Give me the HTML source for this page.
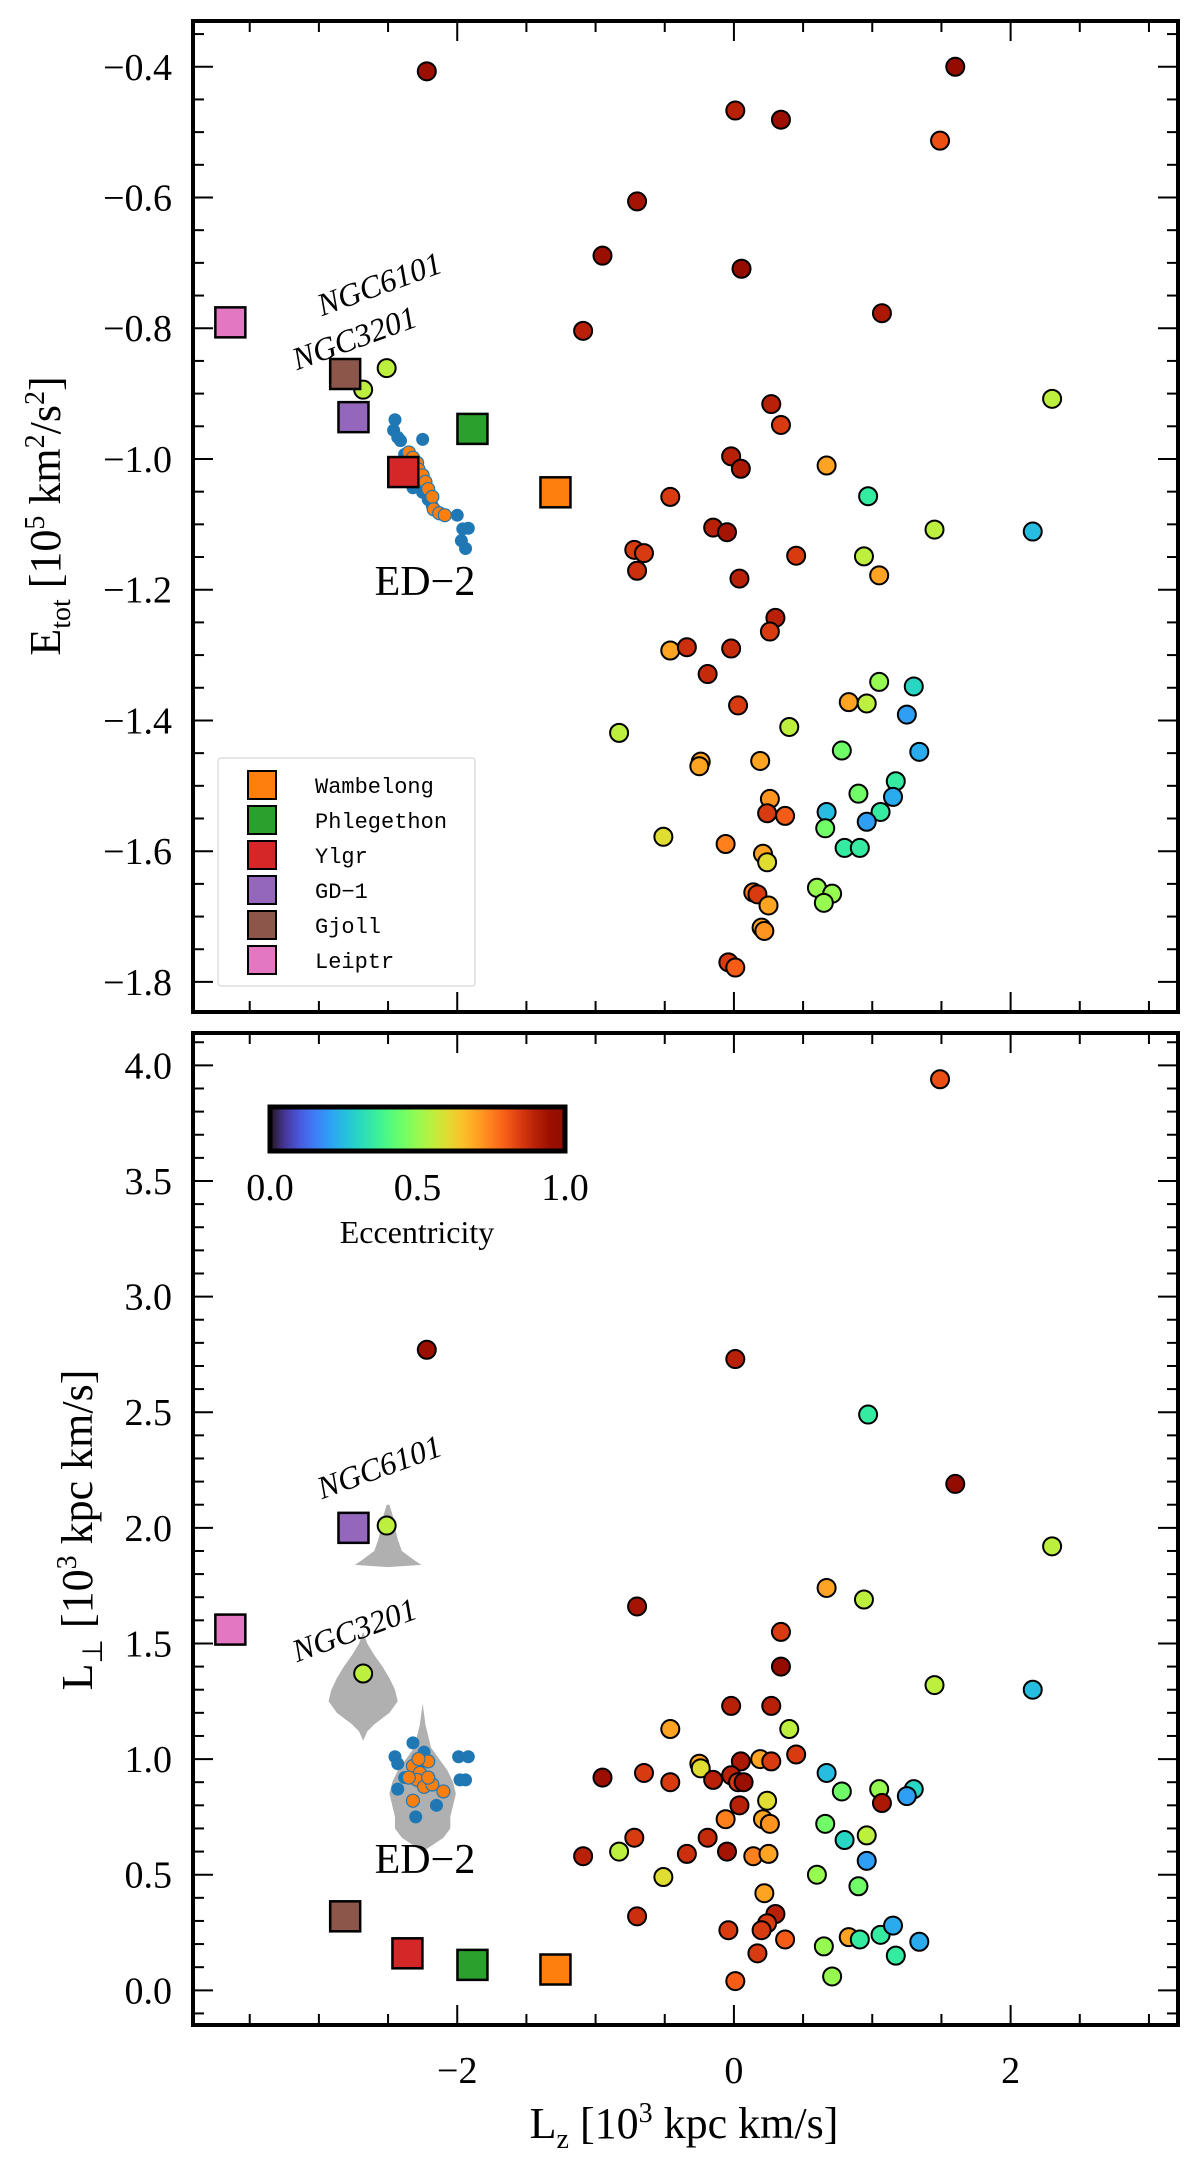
<!DOCTYPE html>
<html><head><meta charset="utf-8"><style>
html,body{margin:0;padding:0;background:#fff}
svg{display:block}
text{font-family:"Liberation Serif",serif;fill:#000}
.mono{font-family:"Liberation Mono",monospace}
</style></head><body>
<svg id="fig" width="1200" height="2161" viewBox="0 0 1200 2161" xmlns="http://www.w3.org/2000/svg">
<g id="top"></g>
<g id="bot"></g>
</svg>
<script>
// ---------- data ----------
const gcLzTop=[-2.22,1.60,0.01,0.34,1.49,-0.70,-0.95,0.055,1.07,-1.09,-2.51,-2.68,2.30,0.27,0.34,-0.02,0.05,0.67,-0.46,0.97,-0.15,-0.05,1.45,2.16,-0.72,-0.65,-0.70,0.45,0.94,1.05,0.04,0.30,0.26,-0.46,-0.34,-0.02,-0.19,0.03,1.05,1.30,0.83,0.96,1.25,0.40,-0.83,0.78,1.34,-0.24,-0.25,0.19,1.17,0.26,0.90,1.15,0.24,0.37,0.67,1.06,0.66,0.96,-0.51,-0.06,0.80,0.91,0.21,0.24,0.60,0.71,0.65,0.14,0.17,0.25,0.20,0.22,-0.04,0.01];
const gcEtot=[-0.407,-0.40,-0.467,-0.481,-0.513,-0.606,-0.689,-0.709,-0.777,-0.804,-0.861,-0.894,-0.908,-0.916,-0.948,-0.996,-1.015,-1.01,-1.058,-1.057,-1.105,-1.112,-1.108,-1.111,-1.139,-1.144,-1.171,-1.148,-1.149,-1.178,-1.183,-1.243,-1.264,-1.293,-1.288,-1.29,-1.329,-1.377,-1.341,-1.348,-1.372,-1.374,-1.391,-1.41,-1.419,-1.446,-1.448,-1.463,-1.47,-1.462,-1.493,-1.52,-1.512,-1.517,-1.542,-1.546,-1.54,-1.54,-1.565,-1.555,-1.578,-1.589,-1.595,-1.595,-1.604,-1.617,-1.656,-1.665,-1.679,-1.663,-1.666,-1.683,-1.717,-1.722,-1.77,-1.778];
const gcEccTop=[.95,.97,.9,.95,.82,.93,.95,.97,.92,.9,.55,.55,.55,.9,.85,.9,.92,.7,.85,.35,.9,.93,.55,.25,.85,.85,.87,.85,.55,.7,.9,.9,.85,.7,.87,.88,.88,.85,.5,.3,.7,.55,.2,.55,.55,.45,.22,.7,.7,.7,.35,.72,.45,.22,.85,.8,.25,.35,.45,.2,.6,.75,.35,.35,.7,.6,.5,.5,.5,.75,.85,.7,.7,.72,.85,.8];
const gcLzBot=[1.49,-2.22,0.01,0.97,1.60,-2.51,2.30,-0.70,0.67,0.94,0.34,0.34,1.45,2.16,-2.68,-0.02,0.27,-0.46,0.40,0.45,0.19,0.27,0.05,-0.25,-0.24,-0.65,-0.02,-0.15,-0.46,-0.95,0.03,0.07,0.67,1.05,1.30,0.78,1.25,1.07,0.24,0.04,-0.06,0.21,0.26,0.66,0.96,0.80,-0.19,-0.72,-1.09,-0.83,-0.34,-0.05,0.14,0.25,0.96,-0.51,0.60,0.90,0.22,-0.70,0.30,0.24,0.20,-0.04,0.37,0.83,0.91,1.06,1.15,1.34,0.65,0.17,1.17,0.71,0.01];
const gcLperp=[3.94,2.77,2.73,2.49,2.19,2.01,1.92,1.66,1.74,1.69,1.55,1.40,1.32,1.30,1.37,1.23,1.23,1.13,1.13,1.02,1.00,0.99,0.99,0.98,0.96,0.94,0.93,0.91,0.90,0.92,0.90,0.90,0.94,0.87,0.87,0.86,0.84,0.81,0.82,0.80,0.74,0.74,0.72,0.72,0.67,0.65,0.66,0.66,0.58,0.60,0.59,0.60,0.58,0.59,0.56,0.49,0.50,0.45,0.42,0.32,0.33,0.29,0.26,0.26,0.22,0.23,0.22,0.24,0.28,0.21,0.19,0.16,0.15,0.06,0.04];
const gcEccBot=[.82,.95,.9,.35,.97,.55,.55,.93,.7,.55,.85,.97,.55,.25,.55,.9,.9,.7,.55,.85,.7,.85,.92,.7,.6,.85,.9,.9,.85,.95,.85,.95,.25,.5,.3,.45,.2,.92,.6,.9,.75,.7,.72,.45,.55,.3,.88,.85,.9,.55,.87,.93,.75,.7,.2,.6,.5,.45,.7,.87,.9,.85,.85,.85,.8,.7,.35,.35,.22,.22,.5,.85,.35,.5,.8];
const streamNames=["Wambelong","Phlegethon","Ylgr","GD\u22121","Gjoll","Leiptr"];
const streamColors=["#ff7f0e","#2ca02c","#d62728","#9467bd","#8c564b","#e377c2"];
const streamLz=[-1.29,-1.89,-2.39,-2.75,-2.81,-3.64];
const streamEtot=[-1.051,-0.954,-1.02,-0.936,-0.87,-0.791];
const streamLzBot=[-1.29,-1.89,-2.36,-2.75,-2.81,-3.64];
const streamLperp=[0.09,0.11,0.16,2.00,0.32,1.56];
const ed2BlueLz=[-2.45,-2.46,-2.43,-2.41,-2.25,-2.38,-2.34,-2.32,-2.29,-2.25,-2.21,-2.18,-2.13,-2.00,-1.96,-1.92,-1.97,-1.94,-2.32];
const ed2BlueE=[-0.940,-0.956,-0.967,-0.972,-0.970,-0.993,-1.006,-1.025,-1.035,-1.051,-1.062,-1.072,-1.083,-1.086,-1.107,-1.106,-1.125,-1.137,-1.044];
const ed2OrLz=[-2.35,-2.32,-2.29,-2.28,-2.25,-2.23,-2.21,-2.18,-2.17,-2.13,-2.09];
const ed2OrE=[-0.990,-0.998,-1.006,-1.016,-1.025,-1.035,-1.046,-1.058,-1.077,-1.083,-1.086];
const ed2BlueLzB=[-2.32,-2.45,-2.43,-2.24,-1.99,-1.92,-1.94,-1.98,-2.43,-2.15,-2.30,-2.28,-2.38];
const ed2BlueLp=[1.07,1.01,0.98,1.03,1.01,1.01,0.91,0.91,0.87,0.80,0.75,0.95,0.92];
const ed2OrLzB=[-2.32,-2.27,-2.21,-2.29,-2.24,-2.18,-2.32,-2.10,-2.35,-2.28,-2.21];
const ed2OrLp=[0.97,0.94,0.99,0.91,0.88,0.89,0.82,0.86,0.92,1.00,0.92];
const violinNames=["NGC6101","NGC3201","ED-2"];
const violinX=[-2.5,-2.68,-2.25];
const violinYs=[[2.10,2.05,2.0,1.95,1.90,1.86,1.84,1.83],[1.55,1.5,1.45,1.4,1.35,1.3,1.25,1.2,1.15,1.12,1.08],[1.24,1.15,1.05,1.0,0.95,0.9,0.85,0.8,0.75,0.7,0.66,0.62,0.60]];
const violinHW=[[0.01,0.035,0.05,0.07,0.1,0.19,0.24,0],[0,0.03,0.08,0.14,0.19,0.23,0.25,0.19,0.08,0.03,0],[0,0.02,0.06,0.12,0.18,0.22,0.24,0.22,0.2,0.2,0.15,0.05,0]];
const xTicks=[-2,0,2];
const yTicksTop=[-0.4,-0.6,-0.8,-1.0,-1.2,-1.4,-1.6,-1.8];
const yTicksBot=[0.0,0.5,1.0,1.5,2.0,2.5,3.0,3.5,4.0];
const cbTicks=[0.0,0.5,1.0];

// ---------- helpers ----------
const NS="http://www.w3.org/2000/svg";
function mk(parent,tag,attrs,txt){const e=document.createElementNS(NS,tag);for(const k in attrs)e.setAttribute(k,attrs[k]);if(txt!==undefined)e.textContent=txt;parent.appendChild(e);return e;}
function turbo(t){t=Math.max(0,Math.min(1,t));
 const r=0.13572138+t*(4.61539260+t*(-42.66032258+t*(132.13108234+t*(-152.94239396+t*59.28637943))));
 const g=0.09140261+t*(2.19418839+t*(4.84296658+t*(-14.18503333+t*(4.27729857+t*2.82956604))));
 const b=0.10667330+t*(12.64194608+t*(-60.58204836+t*(110.36276771+t*(-89.90310912+t*27.34824973))));
 const c=v=>Math.round(255*Math.max(0,Math.min(1,v)));return `rgb(${c(r)},${c(g)},${c(b)})`;}
const X0=193,X1=1178,XMIN=-3.91,XMAX=3.21;
const sx=v=>X0+(v-XMIN)/(XMAX-XMIN)*(X1-X0);
function makeY(y0,y1,vmax,vmin){return v=>y0+(vmax-v)/(vmax-vmin)*(y1-y0);}
const P={top:{g:document.getElementById('top'),Y0:21,Y1:1012,sy:makeY(21,1012,-0.33,-1.846),min:-1.846,max:-0.33,minor:0.05,ticks:yTicksTop,fmt:v=>(v<0?"\u2212":"")+Math.abs(v).toFixed(1)},
 bot:{g:document.getElementById('bot'),Y0:1033,Y1:2025,sy:makeY(1033,2025,4.14,-0.15),min:-0.15,max:4.14,minor:0.1,ticks:yTicksBot,fmt:v=>v.toFixed(1)}};

function axes(p,showX){
 const g=p.g;
 for(let v=-3.5;v<=3.01;v+=0.5){const x=sx(v);const maj=Math.abs(v-Math.round(v/2)*2)<1e-6;const L=maj?20:11;
  const t1=mk(g,'line',{x1:x,x2:x,y1:p.Y1,y2:p.Y1-L,stroke:'#000','stroke-width':2});
  
  const t2=mk(g,'line',{x1:x,x2:x,y1:p.Y0,y2:p.Y0+L,stroke:'#000','stroke-width':2});
  }
 const n0=Math.ceil(p.min/p.minor-1e-6),n1=Math.floor(p.max/p.minor+1e-6);
 for(let n=n0;n<=n1;n++){const v=n*p.minor;const y=p.sy(v);const maj=p.ticks.some(t=>Math.abs(t-v)<1e-6);const L=maj?20:11;
  const a=mk(g,'line',{x1:X0,x2:X0+L,y1:y,y2:y,stroke:'#000','stroke-width':2});
  
  const b=mk(g,'line',{x1:X1,x2:X1-L,y1:y,y2:y,stroke:'#000','stroke-width':2});
  }
 p.ticks.forEach(v=>{const t=mk(g,'text',{x:172,y:p.sy(v)+13,'text-anchor':'end','font-size':38},p.fmt(v));
  });
 if(showX){xTicks.forEach(v=>{const t=mk(g,'text',{x:sx(v),y:2083,'text-anchor':'middle','font-size':38},(v<0?"\u2212":"")+Math.abs(v));
  });}
 const fr=mk(g,'rect',{x:X0,y:p.Y0,width:X1-X0,height:p.Y1-p.Y0,fill:'none',stroke:'#000','stroke-width':4});
 
}
function circles(p,xs,ys,es,name){xs.forEach((x,i)=>{const c=mk(p.g,'circle',{cx:sx(x),cy:p.sy(ys[i]),r:9,fill:turbo(es[i]),stroke:'#000','stroke-width':2});
 });}
function dots(p,xs,ys,col,name,stroke){xs.forEach((x,i)=>{const c=mk(p.g,'circle',{cx:sx(x),cy:p.sy(ys[i]),r:6.5,fill:col});
 if(stroke){c.setAttribute('stroke',stroke);c.setAttribute('stroke-width',1.2);}
 });}
function squares(p,xs,ys){xs.forEach((x,i)=>{const s=mk(p.g,'rect',{x:sx(x)-15,y:p.sy(ys[i])-15,width:30,height:30,fill:streamColors[i],stroke:'#000','stroke-width':2.5});
 });}
function label(g,x,y,txt,rot,size,name){const t=mk(g,'text',{x:x,y:y,'text-anchor':'middle','font-size':size,'font-style':'italic',transform:rot?`rotate(${rot} ${x} ${y})`:''},txt);
 return t;}

// ---------- top panel ----------
const T=P.top;
axes(T,false);
circles(T,gcLzTop,gcEtot,gcEccTop,'globular-cluster');
dots(T,ed2BlueLz,ed2BlueE,'#1f77b4','ed2-member');
dots(T,ed2OrLz,ed2OrE,'#ff7f0e','ed2-core-member','#1f77b4');
squares(T,streamLz,streamEtot);
label(T.g,383,294,'NGC6101',-20,32,'ngc6101-label');
label(T.g,358,348,'NGC3201',-20,32,'ngc3201-label');
{const t=mk(T.g,'text',{x:425,y:595,'text-anchor':'middle','font-size':42},'ED\u22122');}
// legend
{const lg=mk(T.g,'g',{});
 mk(lg,'rect',{x:218,y:758,width:257,height:228,fill:'#fff',stroke:'#ddd','stroke-width':1.5,rx:3});
 streamNames.forEach((n,i)=>{const y=785+i*35;
  const s=mk(lg,'rect',{x:248,y:y-14,width:28,height:28,fill:streamColors[i],stroke:'#000','stroke-width':2});
  
  const t=mk(lg,'text',{x:315,y:y+8,'font-size':22,class:'mono'},n);
  });}
{const t=mk(T.g,'text',{x:0,y:0,'font-size':44,'text-anchor':'middle',transform:'translate(60 516) rotate(-90)'});
 
 t.innerHTML='E<tspan font-size="28" dy="10">tot</tspan><tspan dy="-10"> [10</tspan><tspan font-size="28" dy="-16">5</tspan><tspan dy="16"> km</tspan><tspan font-size="28" dy="-16">2</tspan><tspan dy="16">/s</tspan><tspan font-size="28" dy="-16">2</tspan><tspan dy="16">]</tspan>';}

// ---------- bottom panel ----------
const B=P.bot;
axes(B,true);
violinYs.forEach((ys,k)=>{const xc=violinX[k];const hw=violinHW[k];
 let d='M'+sx(xc+hw[0])+' '+B.sy(ys[0]);
 ys.forEach((y,i)=>{d+=' L'+sx(xc+hw[i])+' '+B.sy(y);});
 for(let i=ys.length-1;i>=0;i--)d+=' L'+sx(xc-hw[i])+' '+B.sy(ys[i]);
 const v=mk(B.g,'path',{d:d+'Z',fill:'#b0b0b0','stroke-linejoin':'round'});
 });
circles(B,gcLzBot,gcLperp,gcEccBot,'globular-cluster');
dots(B,ed2BlueLzB,ed2BlueLp,'#1f77b4','ed2-member');
dots(B,ed2OrLzB,ed2OrLp,'#ff7f0e','ed2-core-member','#1f77b4');
squares(B,streamLzBot,streamLperp);
label(B.g,383,1477,'NGC6101',-20,32,'ngc6101-label');
label(B.g,358,1640,'NGC3201',-20,32,'ngc3201-label');
{const t=mk(B.g,'text',{x:425,y:1873,'text-anchor':'middle','font-size':42},'ED\u22122');}
// colorbar
{const cb=mk(B.g,'g',{});
 const defs=mk(cb,'defs',{});const lgr=mk(defs,'linearGradient',{id:'turbo',x1:0,x2:1,y1:0,y2:0});
 for(let i=0;i<=20;i++)mk(lgr,'stop',{offset:(i/20),'stop-color':turbo(i/20)});
 const cx0=270,cx1=565;
 mk(cb,'rect',{x:cx0,y:1107,width:cx1-cx0,height:44,fill:'url(#turbo)',stroke:'#000','stroke-width':5});
 cbTicks.forEach(v=>{const x=cx0+v*(cx1-cx0);const t=mk(cb,'text',{x:x,y:1200,'text-anchor':'middle','font-size':38},v.toFixed(1));
  });
 const t=mk(cb,'text',{x:417,y:1243,'text-anchor':'middle','font-size':32},'Eccentricity');
 }
{const t=mk(B.g,'text',{x:0,y:0,'font-size':44,'text-anchor':'middle',transform:'translate(92 1530) rotate(-90)'});
 
 t.innerHTML='L<tspan font-size="28" dy="10">\u22a5</tspan><tspan dy="-10"> [10</tspan><tspan font-size="28" dy="-16">3</tspan><tspan dy="16"> kpc km/s]</tspan>';}
{const t=mk(B.g,'text',{x:684,y:2138,'font-size':44,'text-anchor':'middle'});
 
 t.innerHTML='L<tspan font-size="28" dy="10">z</tspan><tspan dy="-10"> [10</tspan><tspan font-size="28" dy="-16">3</tspan><tspan dy="16"> kpc km/s]</tspan>';}
</script>
</body></html>
